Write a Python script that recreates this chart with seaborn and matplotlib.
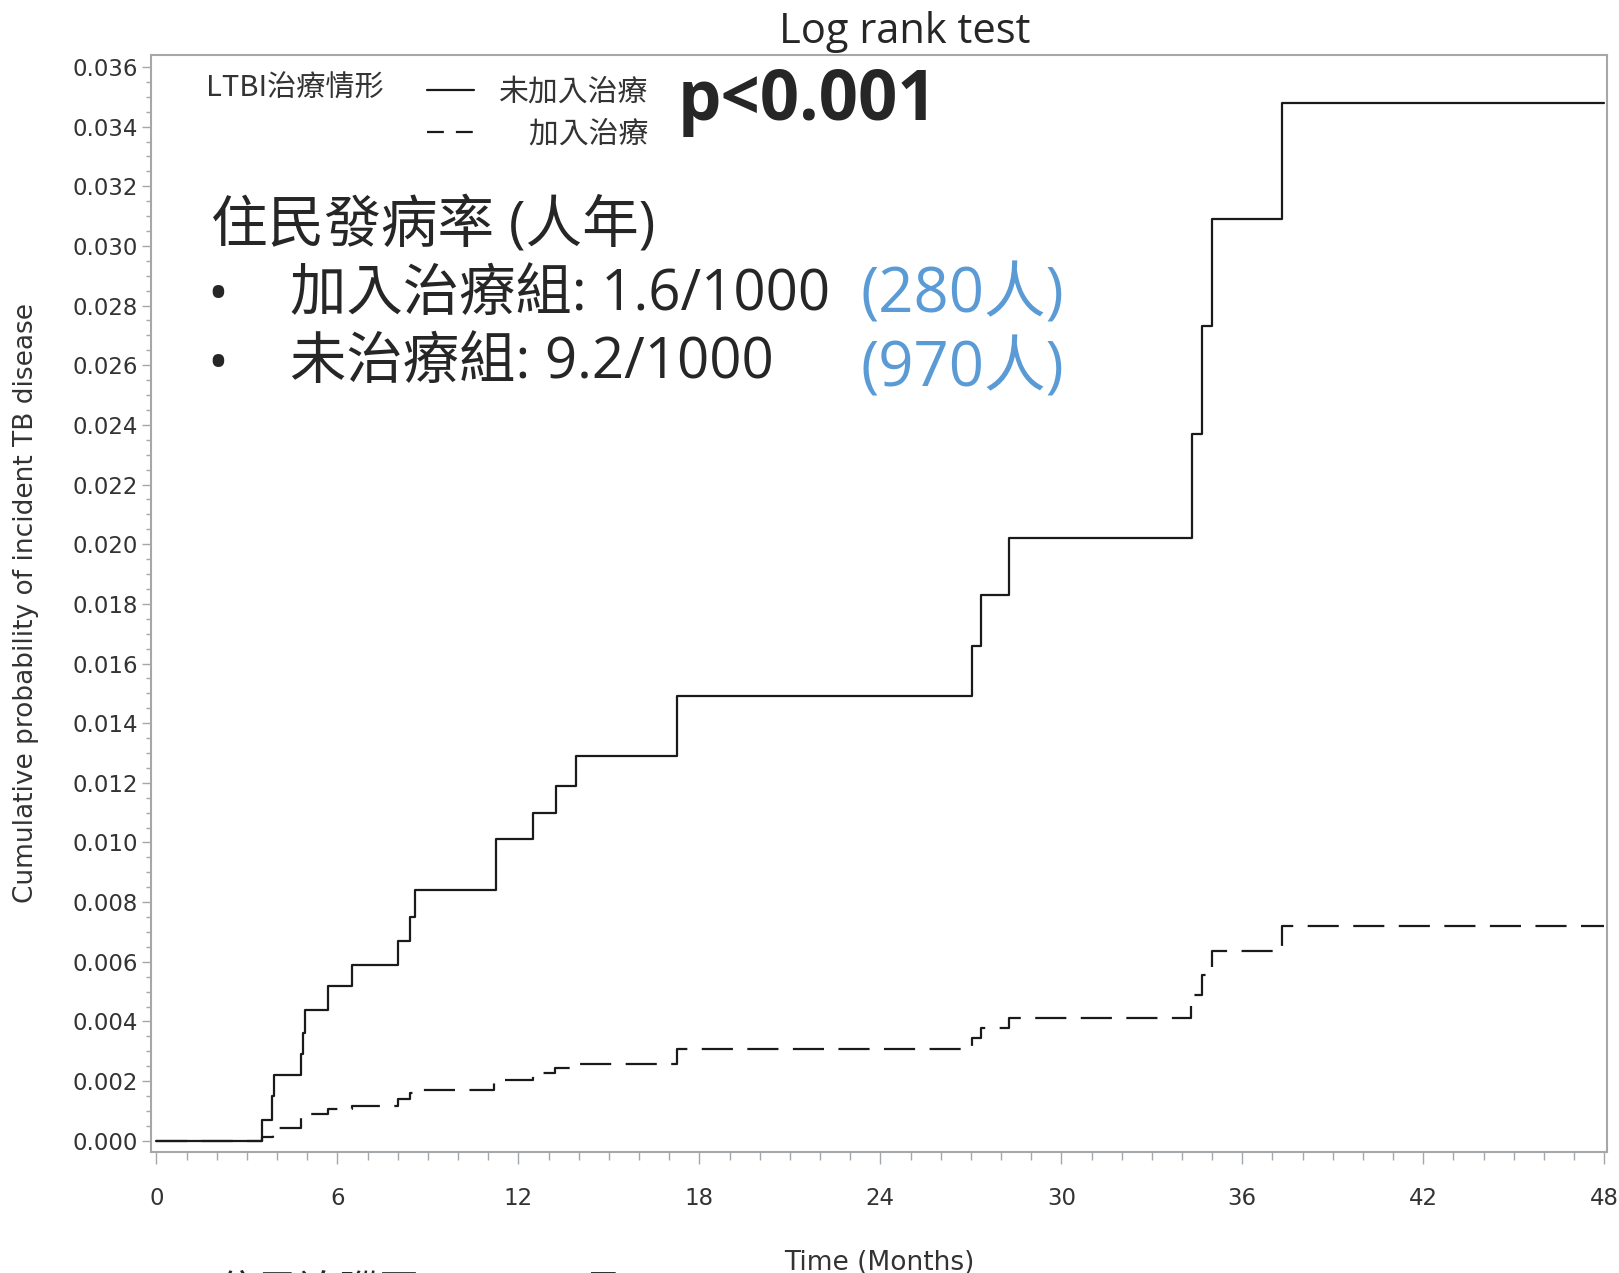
import pandas as pd
import matplotlib.pyplot as plt
from matplotlib.lines import Line2D
from matplotlib.ticker import MultipleLocator, FormatStrFormatter
import seaborn as sns

# cumulative probability of incident TB
untreated_t = [0, 3.49, 3.82, 3.90, 4.78, 4.86, 4.93, 5.68, 6.48, 8.0, 8.42, 8.56, 11.26,
               12.5, 13.25, 13.9, 17.25, 27.05, 27.35, 28.25, 34.34, 34.65, 35.0, 37.3, 48]
untreated_p = [0, 0.0007, 0.0015, 0.0022, 0.0029, 0.0036, 0.0044, 0.0052, 0.0059, 0.0067,
               0.0075, 0.0084, 0.0101, 0.0110, 0.0119, 0.0129, 0.0149, 0.0166, 0.0183,
               0.0202, 0.0237, 0.0273, 0.0309, 0.0348, 0.0348]
treated_t = [0, 3.49, 3.86, 4.80, 4.90, 5.68, 6.48, 8.0, 8.42, 8.56, 11.2, 12.5, 13.2,
             13.9, 17.25, 27.05, 27.35, 28.25, 34.3, 34.65, 35.0, 37.3, 48]
treated_p = [0, 0.00013, 0.00043, 0.0008, 0.0009, 0.00105, 0.00116, 0.0014, 0.0016, 0.0017,
             0.00203, 0.00226, 0.00245, 0.00259, 0.00306, 0.00344, 0.00378, 0.00413,
             0.00488, 0.00557, 0.00637, 0.00719, 0.00719]

groups = ["未加入治療", "加入治療"]
rate_labels = ["加入治療組: 1.6/1000", "未治療組: 9.2/1000"]
group_n = ["(280人)", "(970人)"]

df = pd.concat([
    pd.DataFrame({"time": untreated_t, "prob": untreated_p, "group": groups[0]}),
    pd.DataFrame({"time": treated_t, "prob": treated_p, "group": groups[1]}),
])

sns.set_style("ticks")
plt.rcParams["font.family"] = ["DejaVu Sans", "Noto Sans CJK TC"]
mixed = ["Open Sans", "Noto Sans CJK TC"]

W, H = 1619, 1273
fig = plt.figure(figsize=(W / 100, H / 100), dpi=100)
ax = fig.add_axes([150.7 / W, 1 - 1151.5 / H, (1607 - 150.7) / W, (1151.5 - 55) / H])

sns.lineplot(data=df, x="time", y="prob", style="group", style_order=groups,
             dashes={groups[0]: "", groups[1]: (14, 6.5)}, color="#1a1a1a",
             linewidth=1.6, drawstyle="steps-post", estimator=None, legend=False, ax=ax)

ax.set_xlim(-0.19, 48.09)
ax.set_ylim(-0.00036, 0.0364)
ax.xaxis.set_major_locator(MultipleLocator(6))
ax.xaxis.set_minor_locator(MultipleLocator(1))
ax.yaxis.set_major_locator(MultipleLocator(0.002))
ax.yaxis.set_minor_locator(MultipleLocator(0.0005))
ax.yaxis.set_major_formatter(FormatStrFormatter("%.3f"))

grey = "#a5a8ab"
for s in ax.spines.values():
    s.set_color(grey)
    s.set_linewidth(1.5)
ax.tick_params(axis="x", which="major", length=8.6, width=1, color=grey, pad=17,
               labelsize=16.5, labelcolor="#333333")
ax.tick_params(axis="x", which="minor", length=5.4, width=1, color=grey)
ax.tick_params(axis="y", which="major", length=6.5, width=1, color=grey, pad=2.7,
               labelsize=16.5, labelcolor="#333333")
ax.tick_params(axis="y", which="minor", length=3.4, width=1, color=grey)

ax.set_xlabel("Time (Months)", fontsize=19, color="#333333")
ax.xaxis.set_label_coords(0.5, -0.09)
ax.set_ylabel("Cumulative probability of incident TB disease", fontsize=19, color="#333333")
ax.yaxis.set_label_coords(-0.0766, 0.5)

# legend (SAS style)
handles = [Line2D([], [], color="#1a1a1a", lw=1.6),
           Line2D([], [], color="#1a1a1a", lw=1.6, dashes=(7.6, 5.4))]
ax.legend(handles, [groups[0], "\u3000" + groups[1]], loc="upper left",
          bbox_to_anchor=(0.1897, 0.9805), frameon=False, borderpad=0, borderaxespad=0,
          handlelength=1.56, handletextpad=0.85, labelspacing=0.36, labelcolor="#333333",
          prop={"family": ["Noto Sans CJK TC"], "size": 21.5})
fig.text(206 / W, 1 - 89 / H, "LTBI治療情形", va="center", fontsize=21, color="#333333",
         family=["Noto Sans CJK TC"])

# annotations
fig.text(905 / W, 1 - 43.3 / H, "Log rank test", ha="center", va="baseline", fontsize=30,
         family=["Open Sans"])
fig.text(678 / W, 1 - 120 / H, "p<0.001", va="baseline", fontsize=49.5, fontweight="bold",
         family=["Open Sans"])
fig.text(211 / W, 1 - 241 / H, "住民發病率 (人年)", va="baseline", fontsize=40.8, family=mixed)
for i, (lab, n) in enumerate(zip(rate_labels, group_n)):
    base = [310, 378][i]
    fig.text(218 / W, 1 - (base - 12) / H, "•", ha="center", va="center", fontsize=40,
             family=["Open Sans"])
    fig.text(290 / W, 1 - base / H, lab, va="baseline", fontsize=40.6, family=mixed)
    fig.text(860 / W, 1 - [312, 387][i] / H, n, va="baseline", fontsize=44.4,
             color="#5B9BD5", family=mixed)

# clipped line from the slide underneath
fig.text(218 / W, 1 - 1303.5 / H, "住民追蹤至 2019/12月)", va="baseline", fontsize=29, family=mixed)

fig.savefig("out.png", dpi=100)
